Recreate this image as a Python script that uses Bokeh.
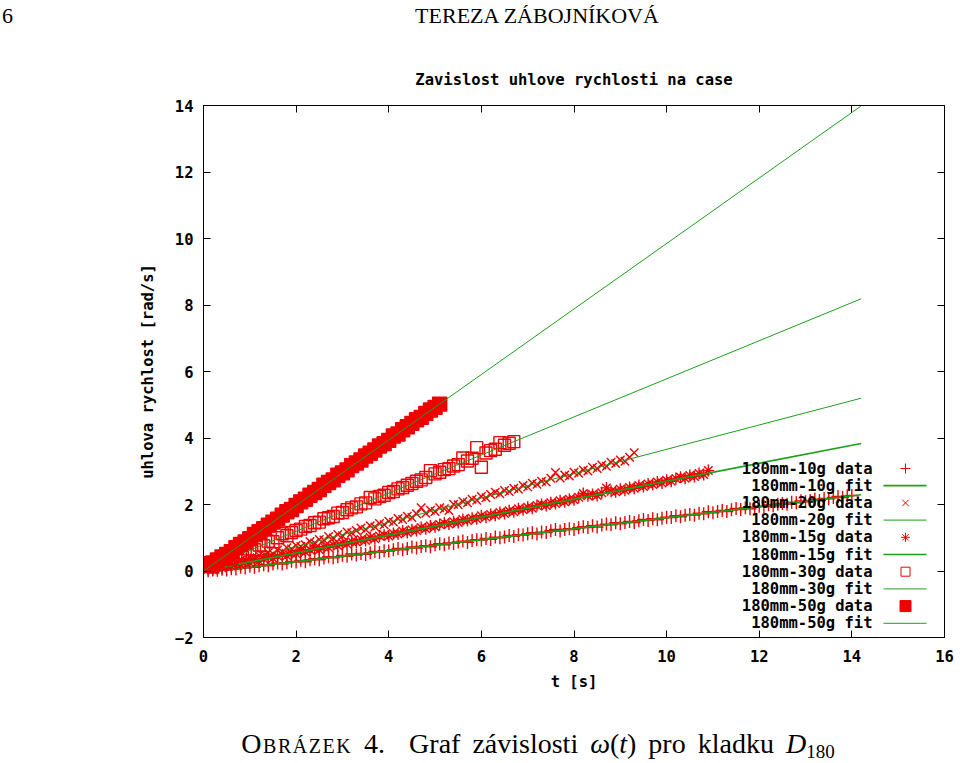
import numpy as np
from bokeh.plotting import figure
from bokeh.layouts import column
from bokeh.models import (Range1d, FixedTicker, LinearAxis, Label, Title, Div,
                          CustomJSTickFormatter)
from bokeh.embed import file_html
from bokeh.resources import INLINE

# ---------------- data ----------------
T_FIRST = 0.1   # first sample time [s]
T_STEP = 0.1    # sampling interval [s]

W_10G = [0.01, 0.03, 0.02, 0.05, 0.03, 0.07, 0.06, 0.11, 0.09, 0.14,
         0.11, 0.16, 0.19, 0.16, 0.21, 0.24, 0.21, 0.25, 0.29, 0.27,
         0.32, 0.28, 0.34, 0.37, 0.34, 0.39, 0.43, 0.40, 0.43, 0.47,
         0.44, 0.51, 0.48, 0.53, 0.50, 0.55, 0.59, 0.56, 0.61, 0.60,
         0.64, 0.68, 0.64, 0.68, 0.72, 0.69, 0.74, 0.76, 0.73, 0.79,
         0.82, 0.79, 0.84, 0.83, 0.87, 0.90, 0.86, 0.92, 0.94, 0.93,
         0.98, 0.95, 1.02, 1.00, 1.02, 1.07, 1.04, 1.09, 1.08, 1.12,
         1.15, 1.11, 1.17, 1.16, 1.21, 1.25, 1.20, 1.25, 1.27, 1.25,
         1.30, 1.33, 1.31, 1.36, 1.32, 1.38, 1.41, 1.39, 1.45, 1.42,
         1.46, 1.49, 1.46, 1.51, 1.55, 1.52, 1.57, 1.54, 1.59, 1.62,
         1.61, 1.66, 1.63, 1.68, 1.70, 1.68, 1.74, 1.72, 1.78, 1.75,
         1.79, 1.82, 1.79, 1.84, 1.88, 1.85, 1.90, 1.87, 1.92, 1.95,
         1.94, 1.99, 1.96, 2.01, 2.03, 2.01, 2.07, 2.05, 2.11, 2.08,
         2.12, 2.16, 2.12, 2.18, 2.17, 2.21, 2.24, 2.21, 2.26, 2.27]

W_20G = [0.07, 0.06, 0.12, 0.18, 0.16, 0.25, 0.23, 0.33, 0.31, 0.40,
         0.38, 0.47, 0.45, 0.56, 0.52, 0.63, 0.58, 0.70, 0.66, 0.77,
         0.74, 0.79, 0.89, 0.84, 0.95, 0.93, 1.04, 0.99, 1.10, 1.06,
         1.17, 1.15, 1.22, 1.29, 1.25, 1.36, 1.32, 1.43, 1.39, 1.50,
         1.47, 1.58, 1.55, 1.65, 1.61, 1.72, 1.90, 1.74, 1.83, 1.79,
         1.90, 1.87, 1.82, 2.01, 1.99, 2.09, 2.05, 2.16, 2.13, 2.24,
         2.20, 2.30, 2.37, 2.32, 2.42, 2.39, 2.49, 2.46, 2.57, 2.53,
         2.64, 2.61, 2.70, 2.68, 2.79, 2.96, 2.80, 2.89, 2.86, 2.97,
         2.94, 3.04, 3.01, 3.12, 3.08, 3.19, 3.15, 3.27, 3.23, 3.34,
         3.30, 3.42, 3.56]

W_15G = [0.05, 0.04, 0.11, 0.09, 0.17, 0.14, 0.22, 0.19, 0.27, 0.25,
         0.33, 0.30, 0.37, 0.41, 0.38, 0.45, 0.49, 0.46, 0.53, 0.52,
         0.60, 0.57, 0.64, 0.67, 0.64, 0.73, 0.71, 0.79, 0.76, 0.84,
         0.81, 0.89, 0.87, 0.95, 0.92, 1.01, 0.97, 1.05, 1.08, 1.05,
         1.13, 1.11, 1.20, 1.16, 1.24, 1.22, 1.31, 1.27, 1.35, 1.33,
         1.40, 1.44, 1.41, 1.48, 1.46, 1.55, 1.52, 1.59, 1.57, 1.66,
         1.62, 1.70, 1.68, 1.76, 1.73, 1.81, 1.78, 1.87, 1.84, 1.92,
         1.89, 1.97, 2.00, 1.97, 2.05, 2.03, 2.11, 2.08, 2.16, 2.14,
         2.22, 2.33, 2.26, 2.30, 2.27, 2.35, 2.50, 2.40, 2.38, 2.46,
         2.43, 2.51, 2.49, 2.57, 2.54, 2.62, 2.60, 2.68, 2.65, 2.73,
         2.70, 2.78, 2.82, 2.79, 2.87, 2.84, 2.93, 2.90, 3.02]

W_30G = [0.15, 0.12, 0.30, 0.22, 0.40, 0.36, 0.48, 0.55, 0.52, 0.66,
         0.64, 0.78, 0.76, 0.90, 0.88, 1.00, 1.12, 1.06, 1.16, 1.22,
         1.26, 1.34, 1.37, 1.45, 1.47, 1.57, 1.60, 1.64, 1.74, 1.76,
         1.84, 1.90, 1.93, 2.02, 2.05, 2.21, 2.17, 2.24, 2.28, 2.36,
         2.39, 2.47, 2.51, 2.58, 2.63, 2.70, 2.74, 2.81, 3.02, 2.92,
         2.97, 3.05, 3.08, 3.16, 3.20, 3.40, 3.31, 3.39, 3.71, 3.12,
         3.55, 3.62, 3.66, 3.86, 3.78, 3.84, 3.89]

W_50G = [0.22, 0.24, 0.33, 0.42, 0.50, 0.58, 0.70, 0.80, 0.87, 0.97,
         1.10, 1.18, 1.27, 1.38, 1.47, 1.56, 1.68, 1.78, 1.85, 1.97,
         2.08, 2.16, 2.28, 2.36, 2.45, 2.58, 2.66, 2.74, 2.88, 2.95,
         3.04, 3.17, 3.25, 3.34, 3.46, 3.54, 3.64, 3.76, 3.83, 3.93,
         4.06, 4.12, 4.25, 4.34, 4.44, 4.55, 4.62, 4.74, 4.84, 4.92,
         5.02]

SERIES_NAMES = ["180mm-10g", "180mm-20g", "180mm-15g", "180mm-30g", "180mm-50g"]
SERIES_VALUES = [W_10G, W_20G, W_15G, W_30G, W_50G]
MARKERS = ["cross", "x", "asterisk", "square", "square"]
FILLED = [False, False, False, False, True]
MARKER_SIZES = [13, 12, 12, 12, 14]

# linear fits  omega = slope * t + intercept
FIT_SLOPE = [0.165, 0.366, 0.270, 0.573, 0.985]
FIT_INTERCEPT = [-0.05, 0.0, 0.0, 0.05, 0.0]
FIT_T = [0.0, 14.2]
FIT_WIDTHS = [1.7, 1.0, 1.7, 1.0, 1.0]

X_TICKS = [0, 2, 4, 6, 8, 10, 12, 14, 16]
Y_TICKS = [-2, 0, 2, 4, 6, 8, 10, 12, 14]
X_RANGE = (0, 16)
Y_RANGE = (-2, 14)

TITLE = "Zavislost uhlove rychlosti na case"
X_LABEL = "t [s]"
Y_LABEL = "uhlova rychlost [rad/s]"
HEADER_NUM = "6"
HEADER_NAME = "TEREZA ZÁBOJNÍKOVÁ"

# ---------------- styling / layout ----------------
RED = "#f00000"
GREEN = "#1ca01c"
MONO = "DejaVu Sans Mono"
SERIF = "Liberation Serif"
FS = "15.5px"

PAGE_W = 960
HEAD_H, CAP_H = 40, 42
W, H = PAGE_W, 763 - HEAD_H - CAP_H
ML, MR, MT, MB = 203, 16, 65, 84
FRAME_LEFT = ML                        # page px
FRAME_BOTTOM = HEAD_H + H - MB         # page px
FRAME_W = W - ML - MR
FRAME_H = H - MT - MB

fig = figure(width=W, height=H, output_backend="svg", toolbar_location=None,
             x_range=Range1d(*X_RANGE), y_range=Range1d(*Y_RANGE),
             min_border_left=ML, min_border_right=MR, min_border_top=MT,
             min_border_bottom=MB, background_fill_color="white",
             border_fill_color="white", outline_line_color="black",
             outline_line_width=1, margin=0)
fig.grid.visible = False
fig.title = Title(text=TITLE, align="center", text_font=MONO,
                  text_font_style="bold", text_font_size=FS, text_color="black",
                  standoff=33)

for ax, ticks in ((fig.xaxis[0], X_TICKS), (fig.yaxis[0], Y_TICKS)):
    ax.ticker = FixedTicker(ticks=ticks)
    ax.major_tick_in = 7
    ax.major_tick_out = 0
    ax.minor_tick_line_color = None
    ax.axis_line_color = "black"
    ax.major_tick_line_color = "black"
    ax.major_label_text_font = MONO
    ax.major_label_text_font_style = "bold"
    ax.major_label_text_font_size = FS
    ax.major_label_text_color = "black"
    ax.axis_label_text_font = MONO
    ax.axis_label_text_font_style = "bold"
    ax.axis_label_text_font_size = FS
    ax.axis_label_text_color = "black"

fig.xaxis.axis_label = X_LABEL
fig.yaxis.axis_label = Y_LABEL
fig.xaxis.major_label_standoff = 12
fig.yaxis.major_label_standoff = 10
fig.xaxis.axis_label_standoff = 8
fig.yaxis.axis_label_standoff = 15

for side, ticks in (("above", X_TICKS), ("right", Y_TICKS)):
    ax = LinearAxis(ticker=FixedTicker(ticks=ticks),
                    formatter=CustomJSTickFormatter(code="return ''"),
                    major_tick_in=7, major_tick_out=0, major_label_standoff=0,
                    minor_tick_line_color=None, axis_line_color="black",
                    major_tick_line_color="black")
    fig.add_layout(ax, side)

# data + fits, drawn in gnuplot order
for name, vals, mk, filled, ms, a, b, lw in zip(SERIES_NAMES, SERIES_VALUES, MARKERS,
                                               FILLED, MARKER_SIZES, FIT_SLOPE,
                                               FIT_INTERCEPT, FIT_WIDTHS):
    t = np.round(T_FIRST + T_STEP * np.arange(len(vals)), 2)
    fig.scatter(t, vals, marker=mk, size=ms, line_color=RED, line_width=1.4,
                fill_color=RED if filled else None)
    ft = np.array(FIT_T)
    fig.line(ft, a * ft + b, line_color=GREEN, line_width=lw)


def px_to_x(page_x):
    return X_RANGE[0] + (page_x - FRAME_LEFT) / FRAME_W * (X_RANGE[1] - X_RANGE[0])


def px_to_y(page_y):
    return Y_RANGE[0] + (FRAME_BOTTOM - page_y) / FRAME_H * (Y_RANGE[1] - Y_RANGE[0])


def add_text(page_x, page_y, text, align="right"):
    fig.add_layout(Label(x=page_x - FRAME_LEFT, y=FRAME_BOTTOM - page_y,
                         x_units="screen", y_units="screen", text=text,
                         text_font=MONO, text_font_size=FS, text_font_style="bold",
                         text_align=align, text_baseline="middle", text_color="black"))


# gnuplot-style key (text right-aligned, sample on the right)
LEG_TOP, LEG_ROW = 468, 17.2
LEG_TEXT_RIGHT, LEG_KEY_L, LEG_KEY_R, LEG_KEY_C = 872, 883, 926, 905
row = 0
for name, mk, filled, ms, lw in zip(SERIES_NAMES, MARKERS, FILLED, MARKER_SIZES, FIT_WIDTHS):
    y_d = LEG_TOP + LEG_ROW * row
    add_text(LEG_TEXT_RIGHT, y_d, name + " data")
    fig.scatter([px_to_x(LEG_KEY_C)], [px_to_y(y_d)], marker=mk, size=ms - 3,
                line_color=RED, line_width=1, fill_color=RED if filled else None)
    y_f = LEG_TOP + LEG_ROW * (row + 1)
    add_text(LEG_TEXT_RIGHT, y_f, name + " fit")
    fig.line([px_to_x(LEG_KEY_L), px_to_x(LEG_KEY_R)], [px_to_y(y_f)] * 2,
             line_color=GREEN, line_width=lw)
    row += 2

# page header and caption (document text around the chart)
header = Div(width=PAGE_W, height=HEAD_H, margin=0, text=(
    f'<div style="position:relative;width:{PAGE_W}px;height:{HEAD_H}px;'
    f'font-family:\'{SERIF}\';font-size:22px;line-height:22px;color:#000;">'
    f'<span style="position:absolute;left:2px;top:5px;">{HEADER_NUM}</span>'
    f'<span style="position:absolute;left:237px;width:600px;top:5px;'
    f'text-align:center;white-space:nowrap;">{HEADER_NAME}</span></div>'))

caption = Div(width=PAGE_W, height=CAP_H, margin=0, text=(
    f'<div style="position:relative;width:{PAGE_W}px;height:{CAP_H}px;'
    f'font-family:\'{SERIF}\';font-size:28px;line-height:30px;color:#000;">'
    f'<span style="position:absolute;left:138px;width:800px;top:8px;'
    f'text-align:center;white-space:nowrap;word-spacing:5px;">'
    f'<span style="font-variant:small-caps;letter-spacing:1.5px;">Obrázek</span> 4.&nbsp; '
    f'Graf závislosti <i>ω</i>(<i>t</i>) pro kladku <i>D</i>'
    f'<span style="font-size:19px;position:relative;top:5px;">180</span>'
    f'</span></div>'))

p = column(header, fig, caption, spacing=0, margin=0)

open("out.html", "w").write(file_html(p, INLINE))
